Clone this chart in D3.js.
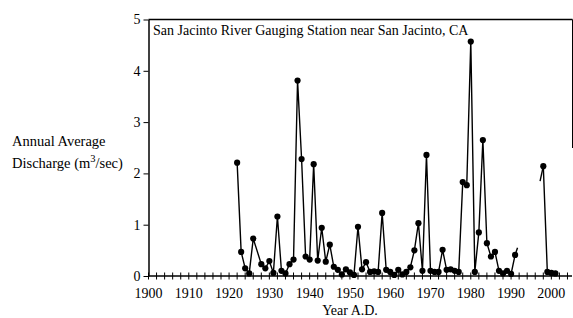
<!DOCTYPE html>
<html>
<head>
<meta charset="utf-8">
<script src="https://cdn.jsdelivr.net/npm/d3@7"></script>
<style>
  body { margin: 0; background: #fff; }
  text { font-family: "Liberation Serif", "Times New Roman", serif; fill: #000; }
</style>
</head>
<body>
<script>
// annual average discharge, m3/sec
var years = [1922, 1923, 1924, 1925, 1926, 1928, 1929, 1930, 1931, 1932, 1933, 1934, 1935, 1936,
    1937, 1938, 1939, 1940, 1941, 1942, 1943, 1944, 1945, 1946, 1947, 1948, 1949, 1950, 1951,
    1952, 1953, 1954, 1955, 1956, 1957, 1958, 1959, 1960, 1961, 1962, 1963, 1964, 1965, 1966,
    1967, 1968, 1969, 1970, 1971, 1972, 1973, 1974, 1975, 1976, 1977, 1978, 1979, 1980, 1981,
    1982, 1983, 1984, 1985, 1986, 1987, 1988, 1989, 1990, 1991]
var discharge = [2.21, 0.47, 0.15, 0.05, 0.73, 0.23, 0.15, 0.29, 0.06, 1.16, 0.10, 0.05, 0.23, 0.32,
    3.81, 2.28, 0.38, 0.32, 2.18, 0.30, 0.94, 0.28, 0.61, 0.18, 0.12, 0.03, 0.13, 0.07, 0.02,
    0.96, 0.13, 0.27, 0.08, 0.09, 0.08, 1.23, 0.12, 0.08, 0.02, 0.12, 0.03, 0.08, 0.17, 0.50,
    1.03, 0.10, 2.36, 0.10, 0.08, 0.08, 0.51, 0.12, 0.13, 0.10, 0.08, 1.83, 1.77, 4.57, 0.08,
    0.85, 2.65, 0.64, 0.38, 0.47, 0.10, 0.05, 0.10, 0.04, 0.41]
var years2 = [1998, 1999, 2000, 2001]
var discharge2 = [2.14, 0.08, 0.06, 0.05]
// short broken line ends next to the gap
var stubs = [
    [[1991, 0.41], [1991.6, 0.55]],
    [[1997.2, 1.85], [1998, 2.14]]
]
var yTicks = [0, 1, 2, 3, 4, 5]
var xLabels = d3.range(1900, 2001, 10)
var xMinor = d3.range(1900, 2005, 2)

var W = 573, H = 318
var d = d3.select('body').append('svg').attr('width', W).attr('height', H)

var x = d3.scaleLinear().domain([1900, 2005]).range([148.5, 571.5])
var y = d3.scaleLinear().domain([0, 5]).range([276, 19.5])

// frame pieces
d.append('line').attr('x1', x(1900)).attr('x2', 572.5).attr('y1', y(5)).attr('y2', y(5))
    .attr('stroke', '#000').attr('stroke-width', 1.3)
d.append('line').attr('x1', 572.5).attr('x2', 572.5).attr('y1', y(5)).attr('y2', 148)
    .attr('stroke', '#000').attr('stroke-width', 1)

// y axis
var ya = d.append('g').attr('transform', 'translate(' + x(1900) + ',0)')
    .call(d3.axisLeft(y).tickValues(yTicks).tickSize(5).tickSizeOuter(0).tickPadding(3)
        .tickFormat(d3.format('d')))
ya.select('.domain').attr('stroke-width', 1.5)
ya.selectAll('text').style('font-size', '14px').attr('font-family', null)

// x axis: crossing ticks every 2 years
var xa = d.append('g').attr('transform', 'translate(0,' + y(0) + ')')
xa.append('line').attr('x1', x(1900)).attr('x2', 572).attr('stroke', '#000').attr('stroke-width', 1.3)
xa.selectAll('.mt').data(xMinor).enter().append('line')
    .attr('x1', function (v) { return x(v) }).attr('x2', function (v) { return x(v) })
    .attr('y1', -3.5).attr('y2', 3.5).attr('stroke', '#000').attr('stroke-width', 1)
xa.selectAll('.lb').data(xLabels).enter().append('text')
    .attr('x', function (v) { return x(v) }).attr('y', 22)
    .attr('text-anchor', 'middle').style('font-size', '14px')
    .text(function (v) { return v })

// line + dots
var line = d3.line().x(function (p) { return x(p[0]) }).y(function (p) { return y(p[1]) })
var s1 = d3.zip(years, discharge)
var s2 = d3.zip(years2, discharge2)
;[s1, s2].concat(stubs).forEach(function (s) {
    d.append('path').attr('d', line(s)).attr('fill', 'none')
        .attr('stroke', '#000').attr('stroke-width', 1.4)
})
d.selectAll('.dot').data(s1.concat(s2)).enter().append('circle')
    .attr('cx', function (p) { return x(p[0]) })
    .attr('cy', function (p) { return y(p[1]) })
    .attr('r', 3.1).attr('fill', '#000')

// texts
d.append('text').attr('x', 153).attr('y', 35).style('font-size', '14px')
    .text('San Jacinto River Gauging Station near San Jacinto, CA')
d.append('text').attr('x', 350).attr('y', 315).attr('text-anchor', 'middle')
    .style('font-size', '14px').text('Year A.D.')
d.append('text').attr('x', 12).attr('y', 146).style('font-size', '14.5px').text('Annual Average')
var t = d.append('text').attr('x', 12).attr('y', 168).style('font-size', '14.5px')
t.append('tspan').text('Discharge (m')
t.append('tspan').attr('dy', -6).style('font-size', '10.5px').text('3')
t.append('tspan').attr('dy', 6).text('/sec)')
</script>
</body>
</html>
